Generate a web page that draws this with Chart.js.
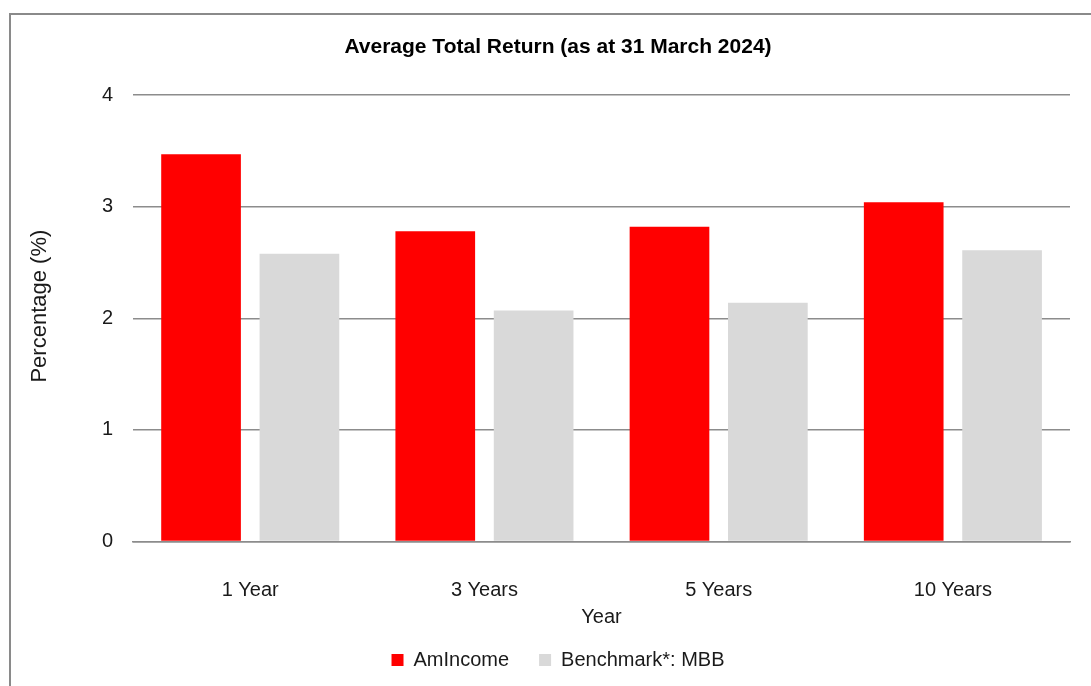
<!DOCTYPE html>
<html>
<head>
<meta charset="utf-8">
<script src="https://cdn.jsdelivr.net/npm/chart.js@4"></script>
<style>
    html, body { margin: 0; padding: 0; background: #fff; overflow: hidden; }
    .frame {
        position: absolute; left: 9px; top: 13px;
        width: 1200px; height: 800px;
        border: 2px solid #8a8a8a;
    }
    .wrap { position: absolute; left: 0; top: 0; width: 1091px; height: 686px; }
</style>
</head>
<body>
<div class="frame"></div>
<div class="wrap"><canvas id="returnChart"></canvas></div>
<script>
// Chart data
const categories = ['1 Year', '3 Years', '5 Years', '10 Years'];
const amIncome = [3.47, 2.78, 2.82, 3.04];
const benchmark = [2.58, 2.07, 2.14, 2.61];
const yTicks = [0, 1, 2, 3, 4];

const fontFamily = '"Liberation Sans", Arial, sans-serif';
const textColor = '#1a1a1a';
const gridColor = '#8c8c8c';

const ctx = document.getElementById('returnChart').getContext('2d');
new Chart(ctx, {
    type: 'bar',
    data: {
        labels: categories,
        datasets: [{
            label: 'AmIncome',
            data: amIncome,
            backgroundColor: '#ff0000',
            categoryPercentage: 0.84,
            barPercentage: 0.81
        }, {
            label: 'Benchmark*: MBB',
            data: benchmark,
            backgroundColor: '#d9d9d9',
            categoryPercentage: 0.84,
            barPercentage: 0.81
        }]
    },
    options: {
        responsive: true,
        maintainAspectRatio: false,
        animation: false,
        layout: {
            padding: { left: 46, right: 21, top: 0, bottom: 6 }
        },
        plugins: {
            title: {
                display: true,
                text: 'Average Total Return (as at 31 March 2024)',
                color: '#000',
                font: { family: fontFamily, size: 21, weight: 'bold' },
                padding: { top: 35, bottom: 35 }
            },
            legend: {
                position: 'bottom',
                labels: {
                    color: textColor,
                    font: { family: fontFamily, size: 20 },
                    boxWidth: 12,
                    boxHeight: 12,
                    padding: 30
                }
            },
            tooltip: { enabled: false }
        },
        scales: {
            x: {
                grid: { display: false, drawTicks: false },
                border: { display: true, color: gridColor, width: 1.5 },
                ticks: {
                    color: textColor,
                    font: { family: fontFamily, size: 20 },
                    padding: 37
                },
                title: {
                    display: true,
                    text: 'Year',
                    color: textColor,
                    font: { family: fontFamily, size: 20 },
                    // axis reserves tick padding twice, so trim it here
                    padding: { top: -34.5, bottom: -9 }
                }
            },
            y: {
                min: 0,
                max: 4,
                afterBuildTicks: (axis) => {
                    axis.ticks = yTicks.map(v => ({ value: v }));
                },
                grid: { color: gridColor, lineWidth: 1.5, drawTicks: false },
                border: { display: false },
                ticks: {
                    color: textColor,
                    font: { family: fontFamily, size: 20 },
                    padding: 20
                },
                title: {
                    display: true,
                    // leading spaces nudge the label up a little, as in the original
                    text: '    Percentage (%)',
                    color: textColor,
                    font: { family: fontFamily, size: 22 },
                    padding: { top: -19.2, bottom: 28.8 }
                }
            }
        }
    }
});
</script>
</body>
</html>
